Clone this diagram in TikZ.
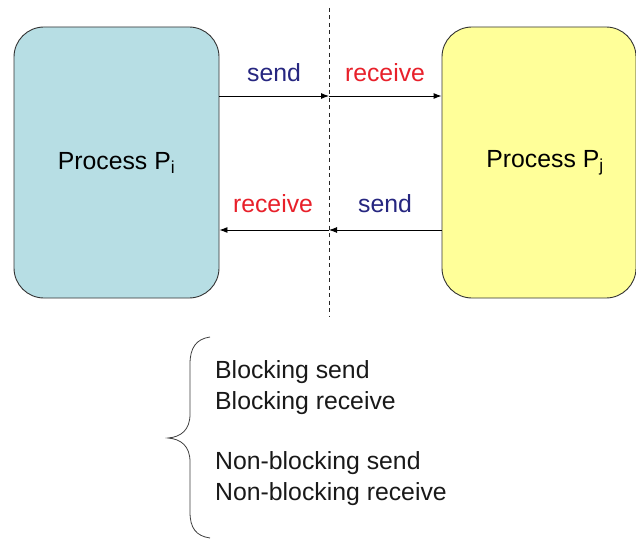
\documentclass[tikz,border=0pt]{standalone}
\usepackage{fontspec}
\setmainfont{Liberation Sans}
\usetikzlibrary{arrows.meta}
\definecolor{procblue}{RGB}{183,222,228}
\definecolor{procyellow}{RGB}{255,255,153}
\definecolor{sendblue}{RGB}{38,38,128}
\definecolor{recvred}{RGB}{232,32,42}
\begin{document}
\begin{tikzpicture}[x=1pt,y=-1pt,
  bigtext/.style={font=\fontsize{24.8}{29}\selectfont},
  proc/.style={draw=black!80, line width=0.9pt, rounded corners=30pt,
    inner sep=0pt, bigtext},
  msg/.style={draw=black, line width=0.9pt, -{Latex[length=8pt,width=6pt]}},
  sendlbl/.style={bigtext, inner sep=0pt, text=sendblue},
  recvlbl/.style={bigtext, inner sep=0pt, text=recvred},
  item/.style={bigtext, inner sep=0pt, anchor=base west, text=black!90},
  divider/.style={draw=black!85, line width=0.9pt, dash pattern=on 4pt off 3.5pt}]
\useasboundingbox (0,0) rectangle (636,540);
\fill[white] (0,0) rectangle (636,540);

% the two processes
\node[proc, fill=procblue, minimum width=205pt, minimum height=271pt]
  (pi) at (116.5,162.5) {Process P\textsubscript{i}};
\node[proc, fill=procyellow, minimum width=194pt, minimum height=271pt]
  (pj) at (539,162.5) {\hspace*{12pt}Process P\textsubscript{j}};

% boundary between the two sides
\coordinate (dtop) at (329,8);
\coordinate (dbot) at (329,316);
\draw[divider] (dtop) -- (dbot);

% message paths
\coordinate (m1) at (329,96);
\coordinate (m2) at (329,230);
\draw[msg] (pi.east |- m1) -- (m1);
\draw[msg] (m1) -- (pj.west |- m1);
\draw[msg] (pj.west |- m2) -- (m2);
\draw[msg] (m2) -- (pi.east |- m2);

\node[sendlbl] (s1) at (274,73) {send};
\node[recvlbl] (r1) at (385,73) {receive};
\node[recvlbl] (r2) at (273,204) {receive};
\node[sendlbl] (s2) at (385,204) {send};

% kinds of send and receive
\draw[black!75, line width=0.8pt]
  (210,337) .. controls (196,339) and (190,348) .. (190,364)
  -- (190,414) .. controls (190,430) and (181,437) .. (168,438)
  .. controls (181,439) and (190,446) .. (190,462)
  -- (190,512) .. controls (190,528) and (196,536) .. (210,538);
\node[item] (l1) at (215,378) {Blocking send};
\node[item] (l2) at (215,409) {Blocking receive};
\node[item] (l3) at (215,469) {Non-blocking send};
\node[item] (l4) at (215,500) {Non-blocking receive};
\end{tikzpicture}
\end{document}
